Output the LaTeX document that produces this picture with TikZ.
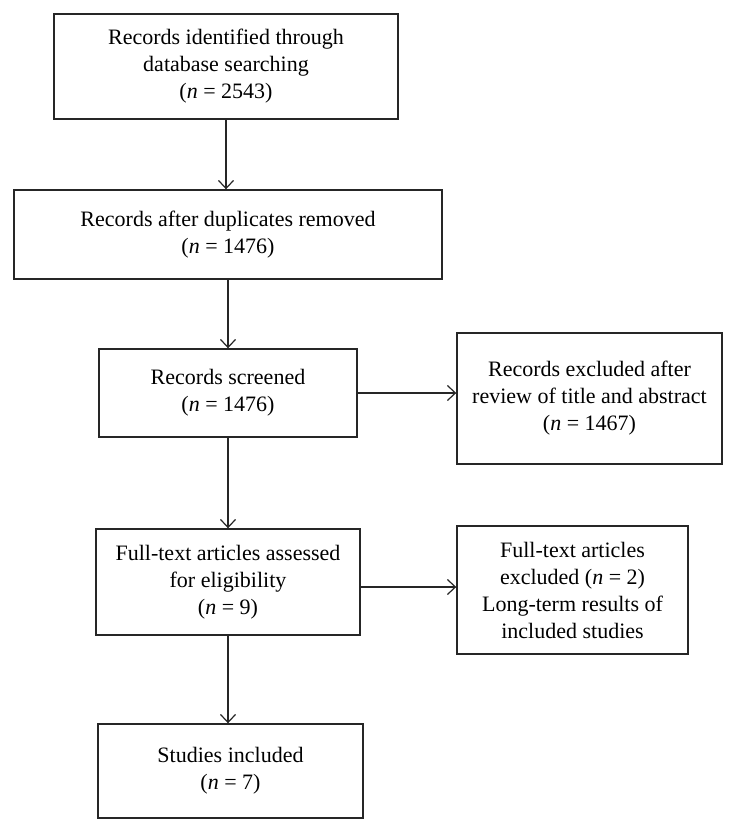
\documentclass[tikz,border=0pt]{standalone}
\usepackage{fontspec}
\setmainfont{Liberation Serif}
\usetikzlibrary{arrows.meta}
\tikzset{
  flowbox/.style={draw=black!85, line width=1.4pt, align=center, inner sep=0pt,
    font=\fontsize{22}{27}\selectfont},
  flowarrow/.style={draw=black!85, line width=1.2pt, -{Straight Barb[length=8pt,width=15pt,line width=1.2pt]}}
}
\begin{document}
\begin{tikzpicture}[x=1pt,y=-1pt]
\useasboundingbox (0,0) rectangle (736,833);
\node[flowbox, minimum width=344pt, minimum height=105pt] (b1) at (226,66.5)
  {Records identified through\\database searching\\(\textit{n} = 2543)};
\node[flowbox, minimum width=428pt, minimum height=89pt] (b2) at (228,234.5)
  {Records after duplicates removed\\(\textit{n} = 1476)};
\node[flowbox, minimum width=258pt, minimum height=88pt] (b3) at (228,393)
  {Records screened\\(\textit{n} = 1476)};
\node[flowbox, minimum width=265pt, minimum height=131pt] (e1) at (589.5,398.5)
  {Records excluded after\\review of title and abstract\\(\textit{n} = 1467)};
\node[flowbox, minimum width=264pt, minimum height=106pt] (b4) at (228,582)
  {Full-text articles assessed\\for eligibility\\(\textit{n} = 9)};
\node[flowbox, minimum width=231pt, minimum height=128pt] (e2) at (572.5,590)
  {Full-text articles\\excluded (\textit{n} = 2)\\Long-term results of\\included studies};
\node[flowbox, minimum width=265pt, minimum height=94pt] (b5) at (230.5,771)
  {Studies included\\(\textit{n} = 7)};
\draw[flowarrow] (b1.south) -- (b1.south |- b2.north);
\draw[flowarrow] (b2.south) -- (b2.south |- b3.north);
\draw[flowarrow] (b3.south) -- (b3.south |- b4.north);
\draw[flowarrow] (b4.south) -- (b4.south |- b5.north);
\draw[flowarrow] (b3.east) -- (b3.east -| e1.west);
\draw[flowarrow] ([yshift=-5pt]b4.east) -- ([yshift=-5pt]b4.east -| e2.west);
\end{tikzpicture}
\end{document}
